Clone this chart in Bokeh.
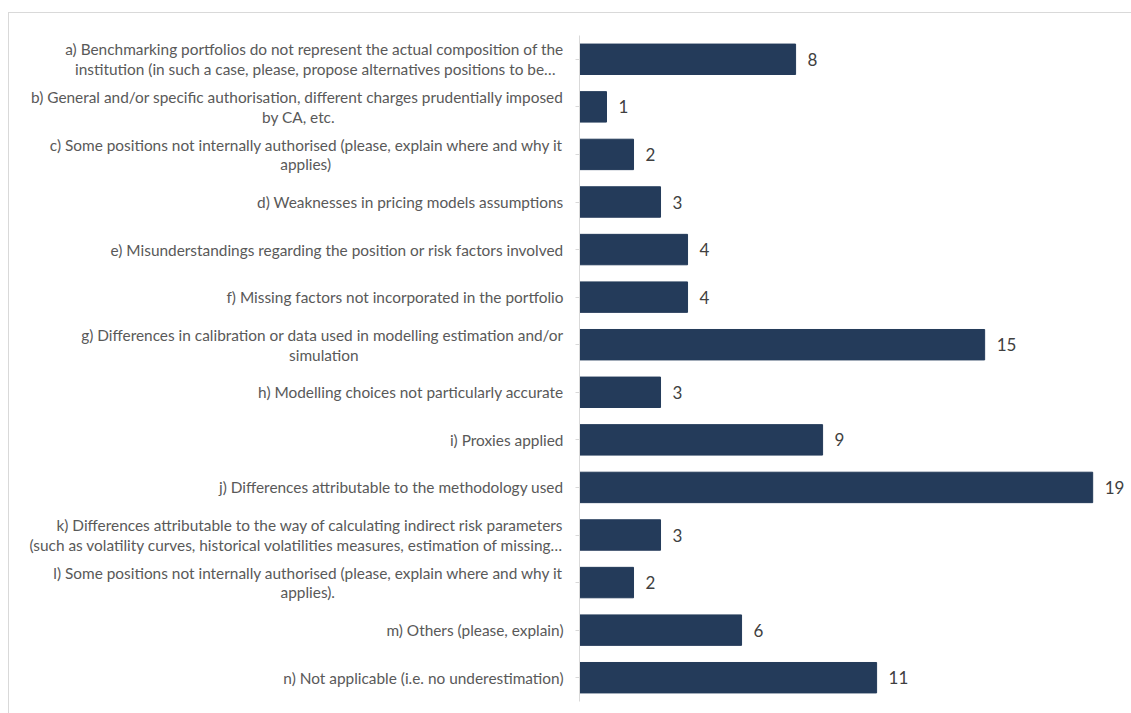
import glob
from bokeh.plotting import figure
from bokeh.models import FactorRange, Range1d, ColumnDataSource
from bokeh.core.properties import value
from bokeh.embed import file_html
from bokeh.resources import INLINE

categories = [
    "a) Benchmarking portfolios do not represent the actual composition of the\ninstitution (in such a case, please, propose alternatives positions to be…",
    "b) General and/or specific authorisation, different charges prudentially imposed\nby CA, etc.",
    "c) Some positions not internally authorised (please, explain where and why it\napplies)",
    "d) Weaknesses in pricing models assumptions",
    "e) Misunderstandings regarding the position or risk factors involved",
    "f) Missing factors not incorporated in the portfolio",
    "g) Differences in calibration or data used in modelling estimation and/or\nsimulation",
    "h) Modelling choices not particularly accurate",
    "i) Proxies applied",
    "j) Differences attributable to the methodology used",
    "k) Differences attributable to the way of calculating indirect risk parameters\n(such as volatility curves, historical volatilities measures, estimation of missing…",
    "l) Some positions not internally authorised (please, explain where and why it\napplies).",
    "m) Others (please, explain)",
    "n) Not applicable (i.e. no underestimation)",
]
values = [8, 1, 2, 3, 4, 4, 15, 3, 9, 19, 3, 2, 6, 11]

FONT = "Lato"
FONT_PX = 15.4
BAR = "#243B5A"


# Excel centres the lines of a wrapped label; Bokeh right-aligns them on a left
# axis, so pad the shorter line with no-break spaces to centre it visually.
def _measure():
    try:
        from PIL import ImageFont
        paths = [f for f in glob.glob("/usr/share/fonts/**/*.ttf", recursive=True)
                 if f.split("/")[-1].lower() in ("lato-regular.ttf",)]
        if not paths:
            return None
        font = ImageFont.truetype(paths[0], 100)
        return lambda s: font.getlength(s)
    except Exception:
        return None


measure = _measure()


def centre_lines(label):
    if "\n" not in label or measure is None:
        return label
    l1, l2 = label.split("\n", 1)
    w1, w2 = measure(l1), measure(l2)
    sp = measure("\u00a0") or 25
    n = int(round((w1 - w2) / 2 / sp))
    return l1 + "\n" + l2 + "\u00a0" * max(n, 0)


display = [centre_lines(c) for c in categories]

src = ColumnDataSource(dict(cat=display, val=values, lab=[str(v) for v in values]))

p = figure(
    width=1124, height=702,
    y_range=FactorRange(factors=list(reversed(display)), range_padding=0),
    x_range=Range1d(0, 20.4),
    output_backend="svg", toolbar_location=None,
    min_border_left=570, min_border_right=3, min_border_top=22, min_border_bottom=14,
)
p.margin = (12, 0, 0, 8)
p.styles = {"border": "1px solid #d9d9d9", "box-sizing": "border-box"}

p.hbar(y="cat", right="val", left=0, height=0.64, source=src,
       fill_color=BAR, line_color=BAR)

p.text(x="val", y="cat", text="lab", source=src, x_offset=12,
       text_baseline="middle", text_align="left",
       text_font=value(FONT), text_font_size="17px", text_color="#404040")

p.xaxis.visible = False
p.xgrid.visible = False
p.ygrid.visible = False
p.outline_line_color = None

ax = p.yaxis[0]
ax.axis_line_color = "#d9d9d9"
ax.major_tick_line_color = "#d9d9d9"
ax.major_tick_out = 4
ax.major_tick_in = 0
ax.minor_tick_line_color = None
ax.major_label_text_font = FONT
ax.major_label_text_font_size = f"{FONT_PX}px"
ax.major_label_text_color = "#595959"
ax.major_label_standoff = 12
ax.major_label_text_line_height = 1.1

open("out.html", "w").write(file_html(p, INLINE))
